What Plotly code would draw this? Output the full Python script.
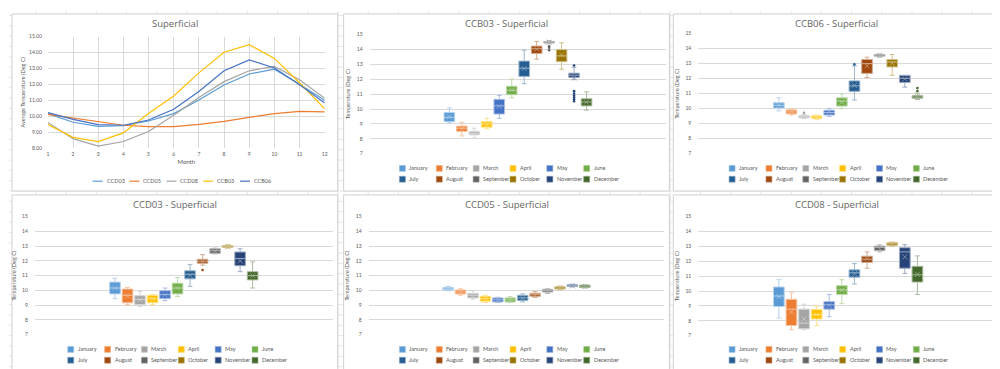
import plotly.graph_objects as go

W, H = 1000, 369

# ---------------- data ----------------
MONTHS = ["January", "February", "March", "April", "May", "June",
          "July", "August", "September", "October", "November", "December"]
MONTH_NUM = [1, 2, 3, 4, 5, 6, 7, 8, 9, 10, 11, 12]
MONTH_COLORS = ["#5B9BD5", "#ED7D31", "#A5A5A5", "#FFC000", "#4472C4", "#70AD47",
                "#255E91", "#9E480E", "#636363", "#997300", "#264478", "#43682B"]

# CCB03
CCB03_LOW = [9.07, 8.19, 8.05, 8.67, 9.37, 10.76, 11.70, 13.35, 14.38, 12.67, 11.97, 9.92]
CCB03_Q1 = [9.15, 8.49, 8.27, 8.78, 9.66, 10.96, 12.19, 13.73, 14.43, 13.18, 12.12, 10.21]
CCB03_MED = [9.44, 8.71, 8.36, 9.00, 10.21, 11.26, 12.74, 14.05, 14.49, 13.57, 12.27, 10.47]
CCB03_Q3 = [9.77, 8.85, 8.47, 9.15, 10.65, 11.53, 13.22, 14.23, 14.54, 13.99, 12.41, 10.69]
CCB03_HIGH = [10.08, 9.11, 8.71, 9.37, 10.91, 12.01, 13.95, 14.54, 14.60, 14.45, 12.80, 11.15]
CCB03_MEAN = [9.48, 8.67, 8.40, 8.95, 10.17, 11.27, 12.72, 14.02, 14.49, 13.63, 12.10, 10.46]
CCB03_OUT_MONTH = [9, 9, 9, 11, 11, 11, 11, 11, 11, 11]
CCB03_OUT_VALUE = [14.21, 14.12, 13.95, 12.92, 11.20, 11.04, 10.91, 10.78, 10.65, 10.52]

# CCB06
CCB06_LOW = [9.85, 9.57, 9.35, 9.26, 9.48, 10.00, 10.57, 12.07, 13.43, 12.22, 11.43, 10.61]
CCB06_Q1 = [10.04, 9.65, 9.39, 9.35, 9.57, 10.17, 11.15, 12.35, 13.50, 12.78, 11.74, 10.70]
CCB06_MED = [10.22, 9.78, 9.46, 9.46, 9.74, 10.50, 11.52, 13.00, 13.57, 13.11, 12.02, 10.78]
CCB06_Q3 = [10.39, 9.91, 9.52, 9.52, 9.89, 10.72, 11.85, 13.28, 13.61, 13.28, 12.22, 10.87]
CCB06_HIGH = [10.72, 10.00, 9.60, 9.57, 10.00, 10.98, 12.85, 13.43, 13.65, 13.61, 12.22, 11.04]
CCB06_MEAN = [10.22, 9.80, 9.47, 9.43, 9.76, 10.44, 11.55, 12.85, 13.54, 13.03, 11.98, 10.82]
CCB06_OUT_MONTH = [3, 7, 12, 12]
CCB06_OUT_VALUE = [9.72, 12.95, 11.37, 11.18]

# CCD03
CCD03_LOW = [9.44, 9.04, 8.91, 9.04, 9.31, 9.58, 10.27, 11.71, 12.47, 12.87, 11.27, 10.16]
CCD03_Q1 = [9.76, 9.16, 9.04, 9.16, 9.44, 9.76, 10.78, 11.84, 12.51, 12.91, 11.67, 10.71]
CCD03_MED = [10.16, 9.67, 9.38, 9.44, 9.71, 10.16, 11.09, 11.98, 12.69, 13.00, 12.16, 11.00]
CCD03_Q3 = [10.56, 10.09, 9.64, 9.67, 9.98, 10.49, 11.33, 12.11, 12.82, 13.04, 12.60, 11.27]
CCD03_HIGH = [10.82, 10.20, 9.93, 9.71, 10.16, 10.87, 11.76, 12.42, 12.87, 13.09, 12.82, 11.93]
CCD03_MEAN = [10.16, 9.62, 9.36, 9.40, 9.70, 10.16, 11.02, 11.96, 12.65, 12.95, 12.00, 11.00]
CCD03_OUT_MONTH = [8]
CCD03_OUT_VALUE = [11.38]

# CCD05
CCD05_LOW = [9.98, 9.67, 9.40, 9.18, 9.18, 9.18, 9.22, 9.53, 9.80, 10.04, 10.24, 10.16]
CCD05_Q1 = [10.04, 9.76, 9.49, 9.27, 9.22, 9.22, 9.31, 9.60, 9.89, 10.09, 10.27, 10.20]
CCD05_MED = [10.11, 9.89, 9.67, 9.44, 9.36, 9.36, 9.49, 9.71, 9.98, 10.16, 10.33, 10.29]
CCD05_Q3 = [10.20, 10.02, 9.80, 9.60, 9.49, 9.49, 9.67, 9.80, 10.07, 10.24, 10.38, 10.36]
CCD05_HIGH = [10.27, 10.11, 9.98, 9.67, 9.53, 9.58, 9.76, 9.93, 10.11, 10.29, 10.42, 10.38]
CCD05_MEAN = [10.11, 9.89, 9.64, 9.43, 9.35, 9.34, 9.48, 9.68, 9.93, 10.16, 10.30, 10.27]
CCD05_OUT_MONTH = []
CCD05_OUT_VALUE = []

# CCD08
CCD08_LOW = [8.19, 7.40, 7.40, 7.68, 8.27, 9.15, 10.47, 11.53, 12.63, 13.00, 11.18, 9.77]
CCD08_Q1 = [8.96, 7.68, 7.46, 8.12, 8.78, 9.77, 10.93, 11.92, 12.71, 13.07, 11.53, 10.60]
CCD08_MED = [9.66, 8.78, 7.84, 8.41, 9.07, 10.08, 11.22, 12.14, 12.93, 13.18, 12.63, 11.09]
CCD08_Q3 = [10.27, 9.44, 8.78, 8.76, 9.29, 10.36, 11.42, 12.34, 13.02, 13.24, 12.91, 11.66]
CCD08_HIGH = [10.76, 9.88, 9.11, 8.98, 9.77, 10.76, 11.84, 12.63, 13.11, 13.29, 13.11, 12.36]
CCD08_MEAN = [9.61, 8.59, 8.12, 8.41, 9.04, 10.06, 11.17, 12.17, 12.85, 13.13, 12.29, 11.12]
CCD08_OUT_MONTH = []
CCD08_OUT_VALUE = []

LINE_SITES = ["CCD03", "CCD05", "CCD08", "CCB03", "CCB06"]
LINE_COLORS = ["#5B9BD5", "#ED7D31", "#A5A5A5", "#FFC000", "#4472C4"]
LINE_VALUES = [CCD03_MEAN, CCD05_MEAN, CCD08_MEAN, CCB03_MEAN, CCB06_MEAN]

BOX_SITES = ["CCB03", "CCB06", "CCD03", "CCD05", "CCD08"]
BOX_STATS = {
    "CCB03": (CCB03_LOW, CCB03_Q1, CCB03_MED, CCB03_Q3, CCB03_HIGH, CCB03_MEAN, CCB03_OUT_MONTH, CCB03_OUT_VALUE),
    "CCB06": (CCB06_LOW, CCB06_Q1, CCB06_MED, CCB06_Q3, CCB06_HIGH, CCB06_MEAN, CCB06_OUT_MONTH, CCB06_OUT_VALUE),
    "CCD03": (CCD03_LOW, CCD03_Q1, CCD03_MED, CCD03_Q3, CCD03_HIGH, CCD03_MEAN, CCD03_OUT_MONTH, CCD03_OUT_VALUE),
    "CCD05": (CCD05_LOW, CCD05_Q1, CCD05_MED, CCD05_Q3, CCD05_HIGH, CCD05_MEAN, CCD05_OUT_MONTH, CCD05_OUT_VALUE),
    "CCD08": (CCD08_LOW, CCD08_Q1, CCD08_MED, CCD08_Q3, CCD08_HIGH, CCD08_MEAN, CCD08_OUT_MONTH, CCD08_OUT_VALUE),
}

# ---------------- layout geometry (pixels) ----------------
FONT = "Lato, 'Liberation Sans', sans-serif"
TXT = "#595959"
GRID = "#D9D9D9"
PANELS = [(3, 3, 330, 183), (336, 3, 663, 183), (667, 3, 995, 183),
          (3, 187, 330, 367), (336, 187, 663, 367), (667, 187, 995, 367)]
PLOTS = [(39, 26, 317, 139.3), (362, 24, 660, 145), (692, 23, 993, 145),
         (26, 209, 325, 329), (361, 209, 658, 329), (692, 209, 993, 330)]


def fx(x):
    return x / W


def fy(y):
    return 1 - y / H


def tint(hexcol, f=0.55):
    h = hexcol.lstrip("#")
    r, g, b = (int(h[i:i + 2], 16) for i in (0, 2, 4))
    r, g, b = (int(c + (255 - c) * f) for c in (r, g, b))
    return "#%02X%02X%02X" % (r, g, b)


fig = go.Figure()
shapes = []
annotations = []

# spreadsheet background grid
vx = [27 + 30.33 * k for k in range(-1, 34)]
vx = [v for v in vx if 0 <= v <= W]
hy = [4.5 + 10.5 * k for k in range(0, 36)]
hy = [v for v in hy if 0 <= v <= H]
path_v = " ".join("M%.4f,0 L%.4f,1" % (fx(v), fx(v)) for v in vx)
path_h = " ".join("M0,%.4f L1,%.4f" % (fy(v), fy(v)) for v in hy)
for p in (path_v, path_h):
    shapes.append(dict(type="path", xref="paper", yref="paper", path=p,
                       line=dict(color="#E6E6E6", width=1), layer="below"))
for (x0, y0, x1, y1) in PANELS:
    shapes.append(dict(type="rect", xref="paper", yref="paper",
                       x0=fx(x0), x1=fx(x1), y0=fy(y1), y1=fy(y0),
                       fillcolor="white", line=dict(color="#D0D0D0", width=1), layer="below"))

titles = ["Superficial"] + [s + " - Superficial" for s in BOX_SITES]
for i, (x0, y0, x1, y1) in enumerate(PANELS):
    annotations.append(dict(text=titles[i], xref="paper", yref="paper",
                            x=fx((x0 + x1) / 2), y=fy(y0 + 10), xanchor="center", yanchor="middle",
                            showarrow=False,
                            font=dict(family="'Open Sans', Lato, sans-serif", size=9.5, color="#666666")))

axis_common = dict(tickfont=dict(family=FONT, size=5, color=TXT), ticks="", zeroline=False,
                   showline=False)

# ---------------- panel 1: line chart ----------------
lx0, ly0, lx1, ly1 = PLOTS[0]
for name, col, vals in zip(LINE_SITES, LINE_COLORS, LINE_VALUES):
    fig.add_trace(go.Scatter(x=MONTH_NUM, y=vals, mode="lines", name=name,
                             line=dict(color=col, width=1.2), showlegend=False,
                             xaxis="x", yaxis="y"))
layout_axes = {}
layout_axes["xaxis"] = dict(domain=[fx(lx0), fx(lx1)], anchor="y", range=[1, 12], dtick=1,
                            showgrid=True, gridcolor=GRID, gridwidth=1,
                            title=dict(text="Month", font=dict(family=FONT, size=6, color=TXT), standoff=3),
                            ticklabelstandoff=2, **axis_common)
layout_axes["yaxis"] = dict(domain=[fy(ly1), fy(ly0)], anchor="x", range=[8, 15], dtick=1,
                            tickformat=".2f", showgrid=True, gridcolor=GRID, gridwidth=1,
                            title=dict(text="Average Temperature (Deg C)",
                                       font=dict(family=FONT, size=5.5, color=TXT), standoff=3),
                            ticklabelstandoff=5, **axis_common)

# line legend
for i, (name, col) in enumerate(zip(LINE_SITES, LINE_COLORS)):
    lx = 84 + 37 * i
    yy = 173
    shapes.append(dict(type="line", xref="paper", yref="paper", x0=fx(lx), x1=fx(lx + 10),
                       y0=fy(yy), y1=fy(yy), line=dict(color=col, width=1.2)))
    annotations.append(dict(text=name, xref="paper", yref="paper", x=fx(lx + 12), y=fy(yy),
                            xanchor="left", yanchor="middle", showarrow=False,
                            font=dict(family=FONT, size=5.5, color=TXT)))

# ---------------- box panels ----------------
for p, site in enumerate(BOX_SITES):
    idx = p + 2
    xa = "x%d" % idx
    ya = "y%d" % idx
    low, q1, med, q3, high, mean, om, ov = BOX_STATS[site]
    for m in range(12):
        col = MONTH_COLORS[m]
        fig.add_trace(go.Box(x=[MONTH_NUM[m]], q1=[q1[m]], median=[med[m]], q3=[q3[m]],
                             lowerfence=[low[m]], upperfence=[high[m]],
                             name=MONTHS[m], width=0.85, whiskerwidth=0.45,
                             fillcolor=col, line=dict(color=tint(col), width=1),
                             boxpoints=False, showlegend=False, xaxis=xa, yaxis=ya))
    fig.add_trace(go.Scatter(x=MONTH_NUM, y=mean, mode="markers", showlegend=False,
                             marker=dict(symbol="x-thin", size=5,
                                         line=dict(width=0.8, color=[tint(c, 0.45) for c in MONTH_COLORS])),
                             xaxis=xa, yaxis=ya, name="Mean"))
    if om:
        fig.add_trace(go.Scatter(x=om, y=ov, mode="markers", showlegend=False,
                                 marker=dict(size=2.6, color=[MONTH_COLORS[mm - 1] for mm in om]),
                                 xaxis=xa, yaxis=ya, name="Outliers"))
    bx0, by0, bx1, by1 = PLOTS[p + 1]
    layout_axes["xaxis%d" % idx] = dict(domain=[fx(bx0), fx(bx1)], anchor=ya, range=[-5.4, 18.4],
                                       showgrid=False, showticklabels=False, **axis_common)
    layout_axes["yaxis%d" % idx] = dict(domain=[fy(by1), fy(by0)], anchor=xa, range=[7, 15], dtick=1,
                                       showgrid=True, gridcolor=GRID, gridwidth=1,
                                       title=dict(text="Temperature (Deg C)",
                                                  font=dict(family=FONT, size=5.5, color=TXT), standoff=5),
                                       ticklabelstandoff=6, **axis_common)
    # legend (two rows of six)
    px0, py0 = PANELS[p + 1][0], PANELS[p + 1][1]
    for m in range(12):
        row, colidx = divmod(m, 6)
        sx = px0 + 56 + 37 * colidx
        sy = py0 + 157 + 11 * row
        shapes.append(dict(type="rect", xref="paper", yref="paper",
                           x0=fx(sx), x1=fx(sx + 6), y0=fy(sy + 3), y1=fy(sy - 3),
                           fillcolor=MONTH_COLORS[m], line=dict(color=tint(MONTH_COLORS[m], 0.4), width=0.6)))
        annotations.append(dict(text=MONTHS[m], xref="paper", yref="paper", x=fx(sx + 8), y=fy(sy),
                                xanchor="left", yanchor="middle", showarrow=False,
                                font=dict(family=FONT, size=5.5, color=TXT)))

fig.update_layout(width=W, height=H, margin=dict(l=0, r=0, t=0, b=0),
                  paper_bgcolor="white", plot_bgcolor="rgba(0,0,0,0)",
                  showlegend=False, shapes=shapes, annotations=annotations,
                  font=dict(family=FONT, color=TXT), **layout_axes)

fig.write_html("out.html")
